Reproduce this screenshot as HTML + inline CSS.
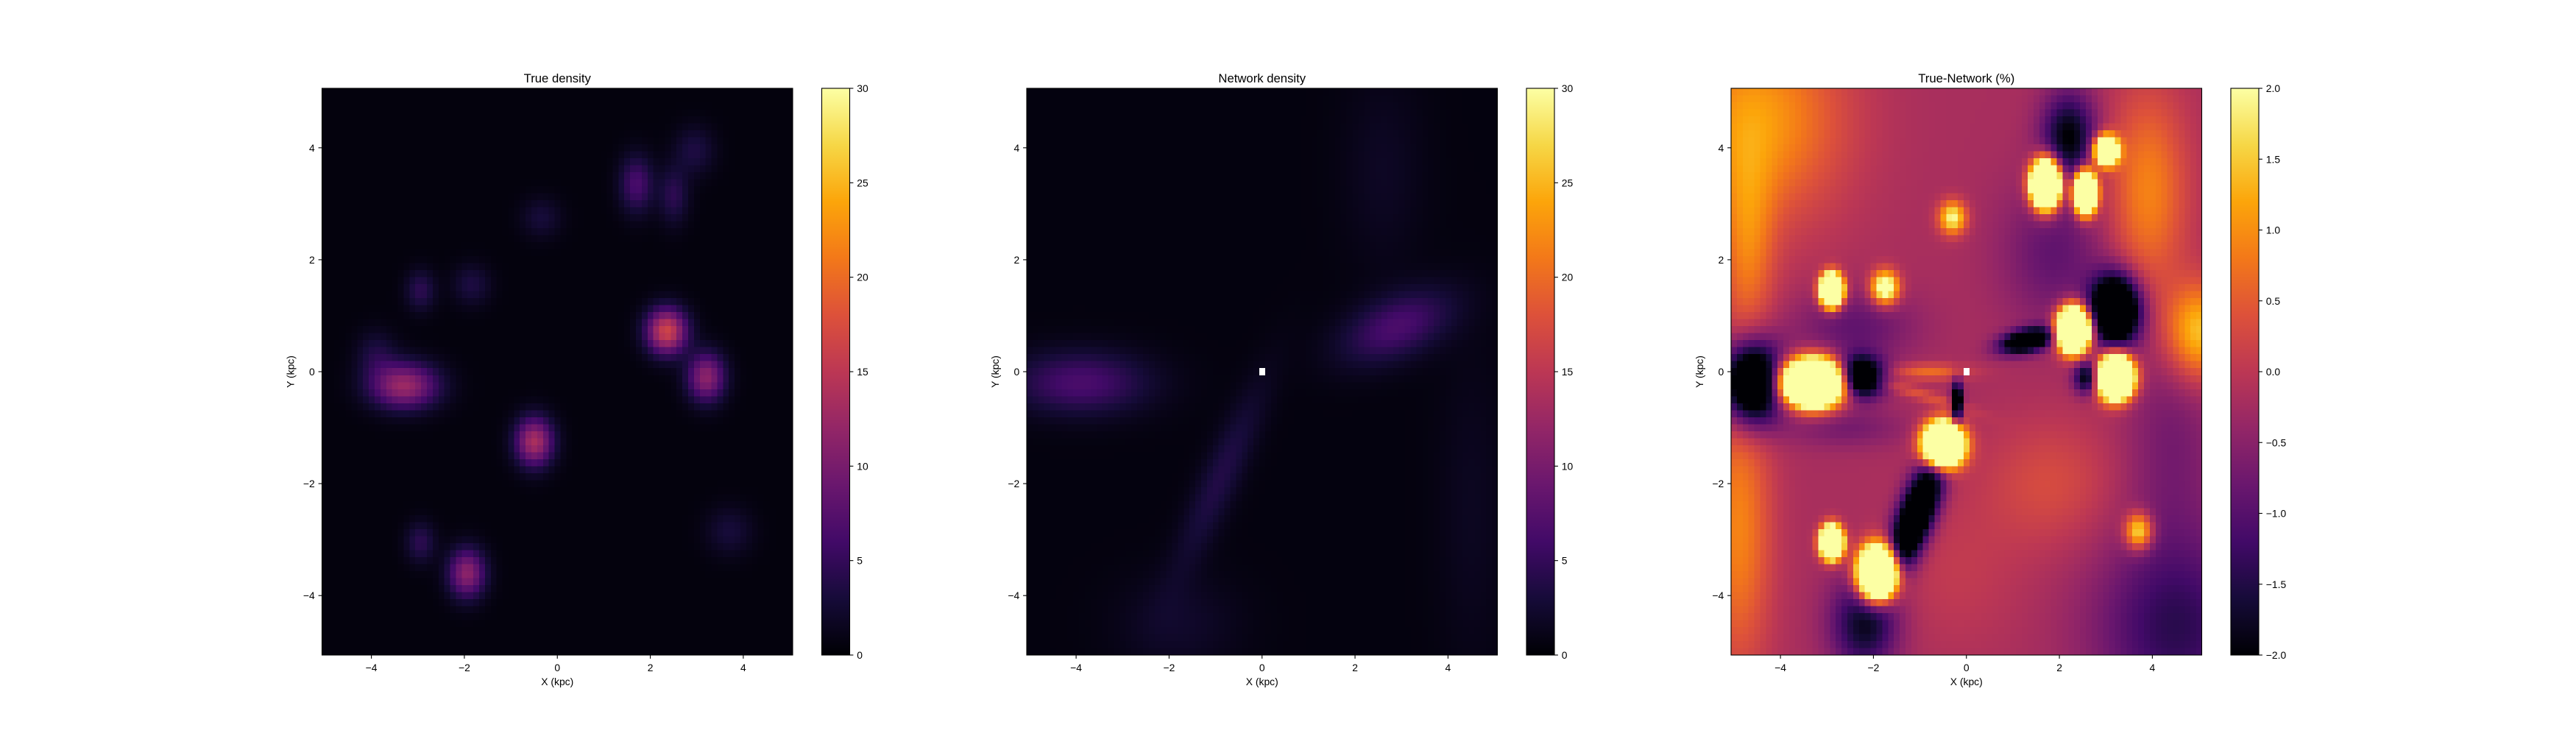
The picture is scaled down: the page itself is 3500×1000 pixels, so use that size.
<!DOCTYPE html>
<html><head><meta charset="utf-8">
<style>
html,body{margin:0;padding:0;background:#fff;}
#wrap{position:relative;width:3500px;height:1000px;overflow:hidden;}
canvas{position:absolute;image-rendering:pixelated;}
svg{position:absolute;left:0;top:0;}
text{font-family:"Liberation Sans","DejaVu Sans",sans-serif;fill:#000;}
</style></head>
<body>
<div id="wrap"></div>
<script>
// ---------- data ----------
const gridN = 81;
const gridMin = -5, gridStep = 0.125;
const xTicks = [-4, -2, 0, 2, 4];
const yTicks = [-4, -2, 0, 2, 4];
const panelTitles = ["True density", "Network density", "True-Network (%)"];
const cbarTicks1 = [0, 5, 10, 15, 20, 25, 30];
const cbarTicks3 = [-2.0, -1.5, -1.0, -0.5, 0.0, 0.5, 1.0, 1.5, 2.0];
const cbarRange1 = [0, 30];
const cbarRange3 = [-2, 2];
// blob sources: [x, y, amplitude, sigmaX, sigmaY, angleDeg]
const trueBackground = 0.5;
const trueBlobs = [
  [-3.3,-0.25,12,0.5,0.28,0],[-3.9,0.3,3,0.3,0.3,0],
  [-0.5,-1.25,13,0.28,0.3,0],[2.35,0.72,16,0.3,0.28,0],
  [3.2,-0.1,11,0.28,0.3,0],[-1.95,-3.6,11,0.27,0.3,0],
  [-2.95,-3.05,4,0.22,0.25,0],[-2.95,1.45,4,0.22,0.25,0],
  [-1.85,1.55,3,0.28,0.25,0],[1.7,3.35,6,0.25,0.35,0],
  [2.5,3.15,4,0.22,0.35,0],[2.95,3.95,3,0.3,0.3,0],
  [-0.35,2.75,2.5,0.3,0.25,0],[3.7,-2.85,2.5,0.35,0.3,0]
];
const netBackground = 0.6;
const netBlobs = [
  [-3.9,-0.2,6,1.0,0.38,0],[2.9,0.8,6,0.85,0.38,18],
  [-0.9,-1.9,3.2,1.3,0.28,62],[2.6,3.6,1.2,0.6,1.2,0],
  [-1.8,-4.5,1.6,0.9,0.6,0],[4.5,-2.5,1.0,0.5,2,0]
];
const diffBackground = -0.2;
const diffBlobs = [
  [-4.5,4.5,1.3,1.3,1.3,0],[-4.7,2.2,0.9,0.4,1.2,0],[3.9,3.2,1.1,0.6,1.3,0],
  [5.0,0.7,1.7,0.5,0.6,0],[-4.9,-2.8,1.1,0.5,1.8,0],[1.8,-2,0.5,1.0,0.8,0],
  [-0.2,-3.6,0.25,1.0,1.0,0],
  [2.2,4.2,-1.8,0.4,0.55,0],[1.9,2.1,-0.7,0.8,0.9,0],[-2.4,0.8,-0.7,0.9,0.45,0],
  [-2.6,-1.0,-0.5,0.9,0.25,0],
  [4.5,-4.6,-1.2,1.2,1.2,0],[4.4,-1.2,-0.5,0.7,1.4,0],[-2.2,-4.5,-1.6,0.5,0.6,0],
  [-4.6,-0.2,-3.5,0.45,0.5,0],[-2.3,-0.1,-3.2,0.35,0.25,0],[3.2,1.1,-4,0.36,0.42,0],
  [1.3,0.55,-3,0.4,0.14,10],[-1.1,-2.6,-3.5,0.8,0.25,65],[-0.2,-0.55,-3,0.08,0.25,0],
  [2.6,-0.1,-2,0.2,0.2,0],[-0.8,0.0,0.9,0.6,0.1,0],[-1.0,-0.4,0.6,0.8,0.08,-15],
  [-3.3,-0.2,10,0.42,0.26,0],[-0.5,-1.3,10,0.27,0.25,0],[2.3,0.75,10,0.22,0.25,0],
  [3.2,-0.1,10,0.24,0.24,0],[-1.9,-3.6,10,0.27,0.3,0],[-2.9,-3.05,10,0.15,0.18,0],
  [-2.9,1.45,10,0.15,0.18,0],[-1.75,1.5,3,0.2,0.2,0],[1.7,3.35,10,0.2,0.27,0],
  [2.55,3.2,10,0.15,0.23,0],[3.0,3.95,6,0.17,0.17,0],[-0.3,2.75,2.2,0.2,0.2,0],
  [3.7,-2.85,2.2,0.2,0.22,0]
];
// ---------- layout ----------
const panelLefts = [437.5, 1395, 2352];
const axW = 639.5, axTop = 120, axH = 770, ext = 5.0625;
const cbOff = 679, cbW = 38;
const infernoStops = ["#000004","#160b39","#420a68","#6a176e","#932667","#bc3754","#dd513a","#f37819","#fca50a","#f6d746","#fcffa4"];
function hex(c){return [parseInt(c.substr(1,2),16),parseInt(c.substr(3,2),16),parseInt(c.substr(5,2),16)];}
const stopsRGB = infernoStops.map(hex);
function inferno(t){t=Math.max(0,Math.min(1,t));const f=t*10,i=Math.min(9,Math.floor(f)),r=f-i;const a=stopsRGB[i],b=stopsRGB[i+1];return [a[0]+(b[0]-a[0])*r,a[1]+(b[1]-a[1])*r,a[2]+(b[2]-a[2])*r];}
function field(blobs,bg,x,y){let v=bg;for(const b of blobs){const an=b[5]*Math.PI/180,dx=x-b[0],dy=y-b[1];const u=dx*Math.cos(an)+dy*Math.sin(an),w=-dx*Math.sin(an)+dy*Math.cos(an);v+=b[2]*Math.exp(-0.5*(u*u/(b[3]*b[3])+w*w/(b[4]*b[4])));}return v;}
const wrap=document.getElementById('wrap');
const NS="http://www.w3.org/2000/svg";
const svg=document.createElementNS(NS,'svg');
svg.setAttribute('width','3500');svg.setAttribute('height','1000');


function sx(p,v){return panelLefts[p]+(v+ext)/(2*ext)*axW;}
function sy(v){return axTop+(ext-v)/(2*ext)*axH;}
function el(tag,attrs,txt){const e=document.createElementNS(NS,tag);for(const k in attrs)e.setAttribute(k,attrs[k]);if(txt!==undefined)e.textContent=txt;svg.appendChild(e);return e;}
function fmt(v,dec){const s=v.toFixed(dec);return v<0?'\u2212'+s.slice(1):s;}
const configs=[[trueBlobs,trueBackground,cbarRange1,false],[netBlobs,netBackground,cbarRange1,true],[diffBlobs,diffBackground,cbarRange3,true]];
configs.forEach((cfg,p)=>{
  const cv=document.createElement('canvas');
  cv.width=gridN;cv.height=gridN;
  cv.style.left=panelLefts[p]+'px';cv.style.top=axTop+'px';cv.style.width=axW+'px';cv.style.height=axH+'px';
  
  
  const ctx=cv.getContext('2d');const img=ctx.createImageData(gridN,gridN);
  const [lo,hi]=cfg[2];
  for(let j=0;j<gridN;j++){for(let i=0;i<gridN;i++){
    const x=gridMin+i*gridStep,y=gridMin+(gridN-1-j)*gridStep;
    let c;
    if(cfg[3]&&i===40&&j===40){c=[255,255,255];}
    else{const v=field(cfg[0],cfg[1],x,y);c=inferno((v-lo)/(hi-lo));}
    const k=(j*gridN+i)*4;img.data[k]=c[0];img.data[k+1]=c[1];img.data[k+2]=c[2];img.data[k+3]=255;}}
  ctx.putImageData(img,0,0);
  wrap.appendChild(cv);
  const fr=el('rect',{x:panelLefts[p],y:axTop,width:axW,height:axH,fill:'none',stroke:'#000','stroke-width':1.1});
  
  
  const t=el('text',{x:panelLefts[p]+axW/2,y:112,'text-anchor':'middle','font-size':16.7},panelTitles[p]);
  
  
  xTicks.forEach(v=>{const X=sx(p,v);
    el('line',{x1:X,x2:X,y1:axTop+axH,y2:axTop+axH+4.9,stroke:'#000','stroke-width':1.1});
    const tl=el('text',{x:X,y:axTop+axH+22,'text-anchor':'middle','font-size':13.9},fmt(v,0));
    
    });
  yTicks.forEach(v=>{const Y=sy(v);
    el('line',{x1:panelLefts[p]-4.9,x2:panelLefts[p],y1:Y,y2:Y,stroke:'#000','stroke-width':1.1});
    const tl=el('text',{x:panelLefts[p]-9.8,y:Y+5,'text-anchor':'end','font-size':13.9},fmt(v,0));
    
    });
  const xl=el('text',{x:panelLefts[p]+axW/2,y:axTop+axH+41,'text-anchor':'middle','font-size':13.9},'X (kpc)');
  
  
  const yx=panelLefts[p]-38;
  const yl=el('text',{x:yx,y:sy(0),'text-anchor':'middle','font-size':13.9,transform:'rotate(-90 '+yx+' '+sy(0)+')'},'Y (kpc)');
  
  
  const cbx=panelLefts[p]+cbOff;
  const cb=document.createElement('div');
  cb.style.cssText='position:absolute;left:'+cbx+'px;top:'+axTop+'px;width:'+cbW+'px;height:'+axH+'px;background:linear-gradient(to top,'+infernoStops.join(',')+');';
  
  
  wrap.appendChild(cb);
  const cbf=el('rect',{x:cbx,y:axTop,width:cbW,height:axH,fill:'none',stroke:'#000','stroke-width':1.1});
  
  
  const ticks=p===2?cbarTicks3:cbarTicks1;const dec=p===2?1:0;
  ticks.forEach(v=>{const Y=axTop+axH-(v-lo)/(hi-lo)*axH;
    el('line',{x1:cbx+cbW,x2:cbx+cbW+4.9,y1:Y,y2:Y,stroke:'#000','stroke-width':1.1});
    const tl=el('text',{x:cbx+cbW+9.8,y:Y+5,'font-size':13.9},fmt(v,dec));
    
    });
});
wrap.appendChild(svg);
</script>
</body></html>
